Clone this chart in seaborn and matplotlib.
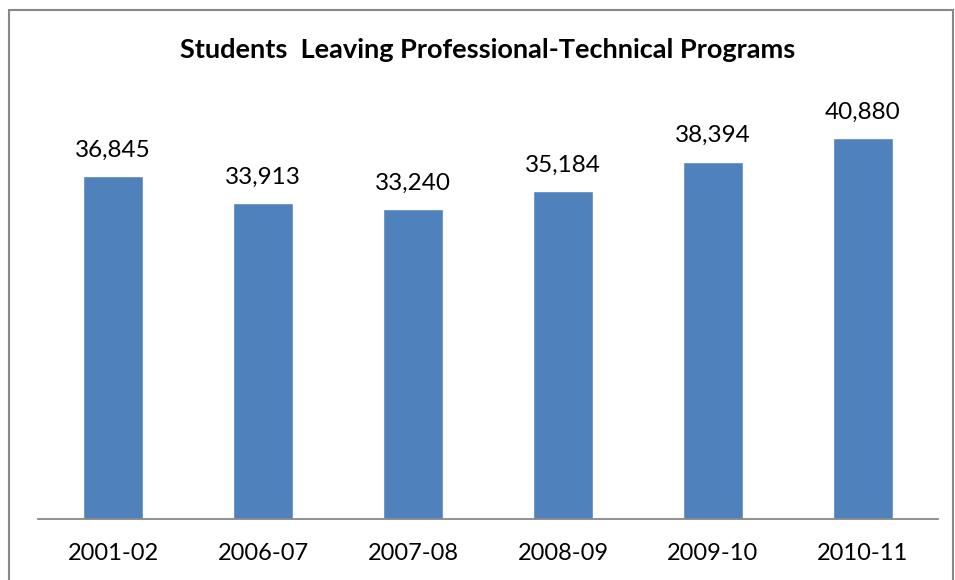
import matplotlib
matplotlib.use("Agg")
import matplotlib.pyplot as plt
import seaborn as sns
import pandas as pd
from matplotlib.patches import Rectangle

categories = ["2001-02", "2006-07", "2007-08", "2008-09", "2009-10", "2010-11"]
values = [36845, 33913, 33240, 35184, 38394, 40880]
title = "Students  Leaving Professional-Technical Programs"

sns.set_theme(style="white")
plt.rcParams["font.family"] = ["Lato", "DejaVu Sans"]

df = pd.DataFrame({"year": categories, "students": values})

W, H = 955, 580
fig = plt.figure(figsize=(W / 100, H / 100), dpi=100)
ax = fig.add_axes([38 / W, (H - 519) / H, 900 / W, 419 / H])

sns.barplot(data=df, x="year", y="students", color="#4F81BD", width=0.4,
            saturation=1, ax=ax)
ax.set_ylim(0, 45000)
ax.set_xlim(-0.5, len(categories) - 0.5)
ax.set_xlabel("")
ax.set_ylabel("")
ax.set_yticks([])
for s in ["top", "right", "left"]:
    ax.spines[s].set_visible(False)
ax.spines["bottom"].set_color("#888888")
ax.spines["bottom"].set_linewidth(1.3)
ax.tick_params(axis="x", length=0, pad=17, labelsize=17, labelcolor="black")

for c in ax.containers:
    ax.bar_label(c, labels=[f"{v:,}" for v in values], padding=11,
                 fontsize=17.5, color="black")

fig.text(488 / W, 1 - 50 / H, title, ha="center", va="center",
         fontsize=19.5, fontweight="bold", color="black")

fig.patches.append(Rectangle((9 / W, -0.05), (953 - 9) / W, 1.05 - 10 / H,
                             transform=fig.transFigure, fill=False,
                             edgecolor="#888888", linewidth=1.5))

fig.savefig("out.png", dpi=100)
